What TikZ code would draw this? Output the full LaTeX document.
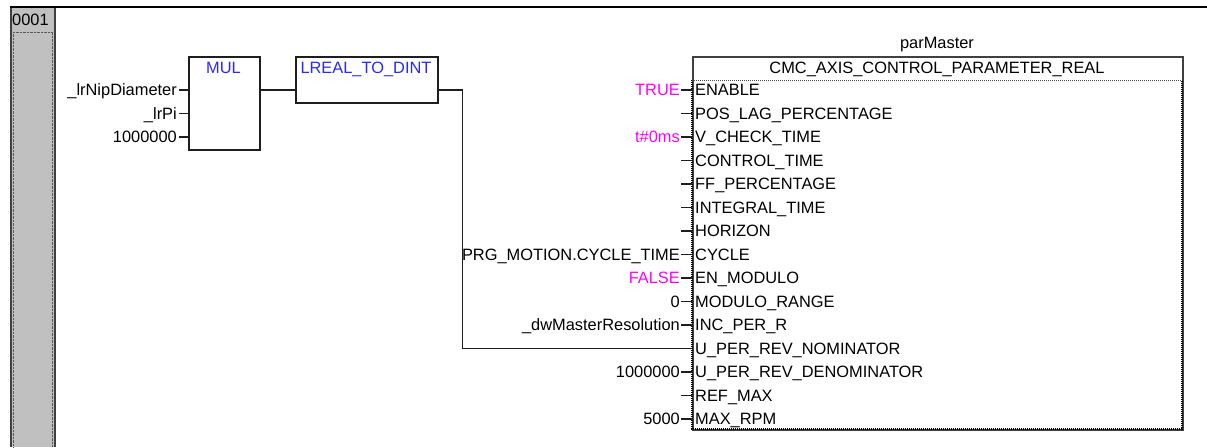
\documentclass[tikz,border=0pt]{standalone}
\usepackage{fontspec}
\setmainfont{Liberation Sans}
\usetikzlibrary{positioning}
\definecolor{fbdblue}{RGB}{40,40,255}
\definecolor{constpink}{RGB}{255,0,255}
\definecolor{rungrey}{RGB}{192,192,192}
\definecolor{frame}{RGB}{30,30,30}

\begin{document}
\begin{tikzpicture}[x=1pt,y=-1pt,
			fb/.style={
				rectangle,
				draw=frame,
				line width=1.6pt,
				inner sep=0pt,
				anchor=north west
			},
			lbl/.style={
				inner sep=0pt,
				text height=11.7pt,
				text depth=0pt,
				font=\fontsize{16.4}{19}\selectfont
			},
			title/.style={lbl, text=fbdblue},
			wire/.style={draw=frame, line width=1.4pt}
			]
			
			\useasboundingbox (0,0) rectangle (1207,447);
			
			% network column
			\fill[rungrey] (10,7) rectangle (56,447);
			\draw[black!75, line width=2.5pt] (11.2,7) -- (11.2,447);
			\draw[black!75, line width=2pt] (55,7) -- (55,447);
			\draw[gray!70!black, densely dotted] (13.5,447) -- (13.5,32) -- (52.5,32) -- (52.5,447);
			\draw[black, line width=2pt] (10,7) -- (1207,7);
			\node (netno) [lbl, anchor=west] at (12,20) {0001};
			
			% function blocks
			\node (mul) [fb, minimum width=71pt, minimum height=93pt] at (188,56) {};
			\node (multitle) [title] at (223.5,68) {MUL};
			
			\node (cvt) [fb, minimum width=142pt, minimum height=46pt] at (295,56) {};
			\node (cvttitle) [title] at (366,68) {LREAL\_TO\_DINT};
			
			\node (axis) [fb, draw=gray!50!black, minimum width=490pt, minimum height=373pt] at (692,56) {};
			\draw[black, line width=1.6pt, dash pattern=on 1pt off 1pt] (692,80) -- (692,429) -- (1182,429) -- (1182,80);
			\draw[gray!60!black, densely dotted, line width=1pt] (692,80) -- (1182,80);
			\node (axistype) [lbl] at (937,68) {CMC\_AXIS\_CONTROL\_PARAMETER\_REAL};
			\node (inst) [lbl] at (937,43) {parMaster};
			
			% MUL inputs
			\foreach \v/\yy [count=\i] in {\_lrNipDiameter/90, \_lrPi/113.5, 1000000/137} {
				\coordinate (min\i) at (179,\yy);
				\draw[wire] (min\i) -- (mul.west |- min\i);
				\node (minlbl\i) [lbl, left=2pt of min\i] {\v};
			}
			
			% pins of parMaster
			\foreach \pname [count=\i] in {ENABLE, POS\_LAG\_PERCENTAGE, V\_CHECK\_TIME,
				CONTROL\_TIME, FF\_PERCENTAGE, INTEGRAL\_TIME, HORIZON, CYCLE, EN\_MODULO,
				MODULO\_RANGE, INC\_PER\_R, U\_PER\_REV\_NOMINATOR, U\_PER\_REV\_DENOMINATOR,
				REF\_MAX, MAX\_RPM} {
				\coordinate (pin\i) at (692,{90+23.5*(\i-1)});
				\coordinate (stub\i) at (681,{90+23.5*(\i-1)});
				\node (pname\i) [lbl, anchor=west] at (695,{90+23.5*(\i-1)}) {\pname};
			}
			\foreach \i in {1,...,11,13,14,15}
				\draw[wire] (stub\i) -- (pin\i);
			
			% values
			\foreach \i/\v/\c in {1/TRUE/constpink, 3/t\#0ms/constpink,
				8/PRG\_MOTION.CYCLE\_TIME/black, 9/FALSE/constpink, 10/0/black,
				11/\_dwMasterResolution/black, 13/1000000/black, 15/5000/black}
				\node (val\i) [lbl, text=\c, left=1pt of stub\i] {\v};
			
			% wires
			\draw[wire] (mul.east |- pin1) -- (cvt.west |- pin1);
			\draw[wire] (cvt.east |- pin1) -- ++(24,0) |- (pin12);
			
		\end{tikzpicture}
\end{document}
